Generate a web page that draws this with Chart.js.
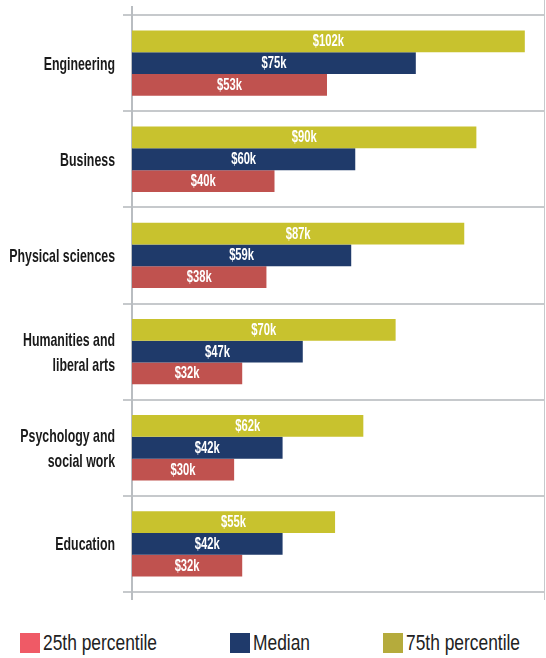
<!DOCTYPE html>
<html>
<head>
<meta charset="utf-8">
<script src="https://cdn.jsdelivr.net/npm/chart.js@4.4.1/dist/chart.umd.min.js"></script>
<style>
  html, body { margin: 0; padding: 0; background: #fff; }
  #wrap { position: relative; width: 546px; height: 610px; }
  #legend {
    position: absolute; top: 632px; left: 0; width: 546px; height: 24px;
    font-family: "Liberation Sans", Arial, sans-serif;
    font-size: 22px; color: #222;
  }
  .item { position: absolute; top: 0; display: flex; align-items: center; height: 22px; white-space: nowrap; }
  .box { width: 20px; height: 20px; margin-right: 3px; flex: none; }
  .txt { display: inline-block; transform: scaleX(0.79); transform-origin: left center; line-height: 22px; }
</style>
</head>
<body>
<div id="wrap"><canvas id="chart"></canvas></div>
<div id="legend"></div>
<script>
// Dados (milhares de dólares)
const categories = [
    'Engineering',
    'Business',
    'Physical sciences',
    ['Humanities and', 'liberal arts'],
    ['Psychology and', 'social work'],
    'Education'
];
const p75 = [102, 90, 87, 70, 62, 55];
const median = [75, 60, 59, 47, 42, 42];
const p25 = [53, 40, 38, 32, 30, 32];

const seriesNames = ['75th percentile', 'Median', '25th percentile'];
const barColors = ['#c8c22e', '#1f3a6a', '#c0524f'];
const legendColors = { '25th percentile': '#ef5a66', 'Median': '#1f3a6b', '75th percentile': '#b5ab3c' };
const legendLeft = { '25th percentile': 20, 'Median': 230, '75th percentile': 383 };

const FONT = '"Liberation Sans", Arial, sans-serif';

// Linhas verticais do eixo (esquerda e direita)
const frameLines = {
    id: 'frameLines',
    beforeDatasetsDraw(chart) {
        const { ctx, chartArea } = chart;
        ctx.save();
        ctx.strokeStyle = '#b9bdc1';
        ctx.lineWidth = 2;
        ctx.beginPath();
        ctx.moveTo(chartArea.left, chartArea.top - 9);
        ctx.lineTo(chartArea.left, chartArea.bottom + 8);
        ctx.stroke();
        ctx.lineWidth = 1;
        ctx.strokeStyle = '#c6c9cc';
        ctx.beginPath();
        ctx.moveTo(chartArea.right - 0.5, 0);
        ctx.lineTo(chartArea.right - 0.5, chartArea.bottom + 8);
        ctx.stroke();
        ctx.restore();
    }
};

// texto com largura reduzida (imita a fonte condensada do original)
function narrowText(ctx, text, x, y, scaleX) {
    ctx.save();
    ctx.translate(x, y);
    ctx.scale(scaleX, 1);
    ctx.fillText(text, 0, 0);
    ctx.restore();
}

// Rótulos de valor centrados nas barras + rótulos das categorias
const textLayer = {
    id: 'textLayer',
    afterDatasetsDraw(chart) {
        const { ctx, chartArea } = chart;
        ctx.save();
        ctx.fillStyle = '#ffffff';
        ctx.font = 'bold 17px ' + FONT;
        ctx.textAlign = 'center';
        ctx.textBaseline = 'alphabetic';
        chart.data.datasets.forEach((ds, i) => {
            chart.getDatasetMeta(i).data.forEach((bar, j) => {
                // a base (zero) fica à esquerda da área visível
                const start = Math.max(bar.base, chartArea.left);
                const cx = (bar.x + start) / 2;
                narrowText(ctx, '$' + ds.data[j] + 'k', cx, bar.y + 5, 0.66);
            });
        });

        const yScale = chart.scales.y;
        ctx.fillStyle = '#1a1a1a';
        ctx.font = 'bold 19px ' + FONT;
        ctx.textAlign = 'right';
        chart.data.labels.forEach((lab, i) => {
            const lines = Array.isArray(lab) ? lab : [lab];
            const y0 = yScale.getPixelForTick(i) - (lines.length - 1) * 12.5;
            lines.forEach((line, k) => {
                narrowText(ctx, line, yScale.right - 17, y0 + k * 25 + 6.5, 0.65);
            });
        });
        ctx.restore();
    }
};

new Chart(document.getElementById('chart'), {
    type: 'bar',
    data: {
        labels: categories,
        datasets: [p75, median, p25].map((d, i) => ({
            label: seriesNames[i],
            data: d,
            backgroundColor: barColors[i],
            borderWidth: 0,
            categoryPercentage: 0.68,
            barPercentage: 1
        }))
    },
    options: {
        indexAxis: 'y',
        responsive: true,
        maintainAspectRatio: false,
        animation: false,
        layout: { padding: { top: 15, right: 1, bottom: 18, left: 0 } },
        plugins: {
            legend: { display: false },
            tooltip: { enabled: false }
        },
        scales: {
            x: { display: false, min: 4.7, max: 107 },
            y: {
                grid: {
                    offset: true,
                    color: '#c6c9cc',
                    lineWidth: 2,
                    tickLength: 9,
                    tickColor: '#c6c9cc'
                },
                border: { display: false },
                ticks: { display: false },
                afterFit(scale) { scale.width = 132; }
            }
        }
    },
    plugins: [frameLines, textLayer]
});

// Legenda (ordem da figura)
const legend = document.getElementById('legend');
['25th percentile', 'Median', '75th percentile'].forEach(name => {
    const item = document.createElement('div');
    item.className = 'item';
    item.style.left = legendLeft[name] + 'px';
    const box = document.createElement('div');
    box.className = 'box';
    box.style.background = legendColors[name];
    const txt = document.createElement('span');
    txt.className = 'txt';
    txt.textContent = name;
    item.appendChild(box);
    item.appendChild(txt);
    legend.appendChild(item);
});
</script>
</body>
</html>
